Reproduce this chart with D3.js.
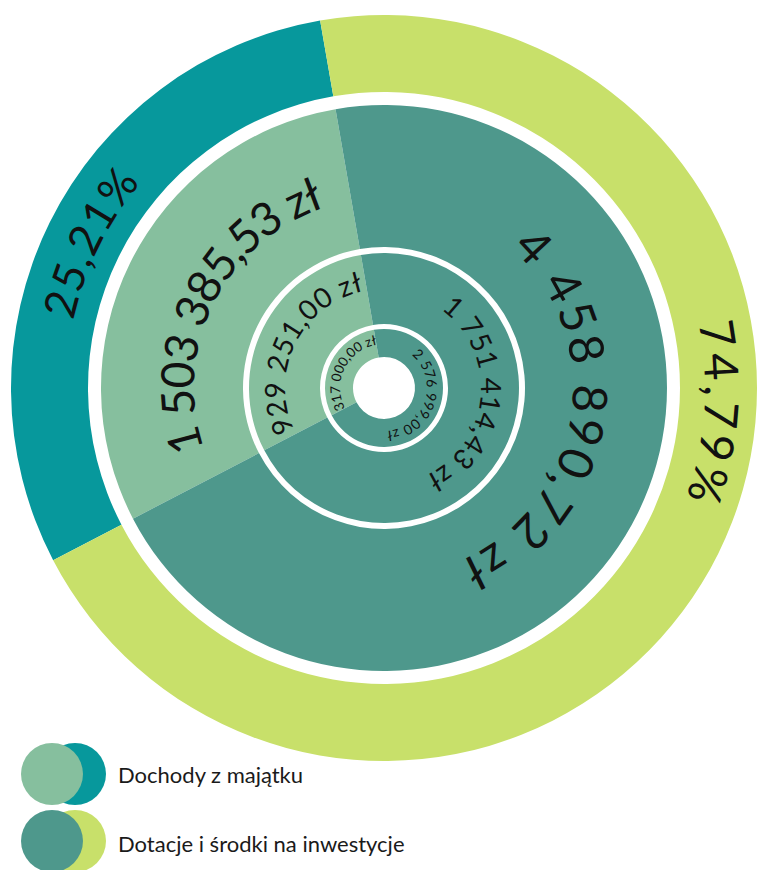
<!DOCTYPE html>
<html lang="pl">
<head>
<meta charset="UTF-8">
<script src="https://d3js.org/d3.v7.min.js"></script>
<style>
  body { margin: 0; background: #fff; }
  svg text { font-family: Lato, "Open Sans", sans-serif; }
</style>
</head>
<body>
<div class="chart"></div>
<script>
// values per ring, inner to outer: [Dochody z majątku, Dotacje i środki na inwestycje]
const ringInner = [317000.00, 2576999.00]
const ringMiddle = [929251.00, 1751414.43]
const ringMain = [1503385.53, 4458890.72]
const ringPercent = [25.21, 74.79]

const labelsInner = ["317 000,00 zł", "2 576 999,00 zł"]
const labelsMiddle = ["929 251,00 zł", "1 751 414,43 zł"]
const labelsMain = ["1 503 385,53 zł", "4 458 890,72 zł"]
const labelsPercent = ["25,21%", "74,79%"]

// share of the circle each slice takes in the picture (same split in every ring)
const sliceShares = [29.9, 70.1]

const categories = ["Dochody z majątku", "Dotacje i środki na inwestycje"]

// ---- layout ----
const width = 757, height = 870
const cx = 384, cy = 388
const deg = Math.PI / 180

const cLight = "#86bf9e", cDark = "#4e988c", cTeal = "#07989c", cLime = "#c8e06a"

// size / base / ls are [light label, dark label]
const rings = [
  { values: ringInner, labels: labelsInner, r0: 31, r1: 59, colors: [cLight, cDark], size: [13.5, 14], base: [44, 43], darkAt: 108, ls: [0, 0.3] },
  { values: ringMiddle, labels: labelsMiddle, r0: 64, r1: 135, colors: [cLight, cDark], size: [28, 28], base: [99, 97], darkAt: 95, ls: [0.5, 0.3] },
  { values: ringMain, labels: labelsMain, r0: 141, r1: 283, colors: [cLight, cDark], size: [46, 48], base: [190, 189], darkAt: 99.5, ls: [-1.5, 2.8] },
  { values: ringPercent, labels: labelsPercent, r0: 296, r1: 373, colors: [cTeal, cLime], size: [44, 47], base: [318, 321], darkAt: 94.5, ls: [1.5, 4] }
]

const svg = d3.select(".chart").append("svg")
  .attr("width", width)
  .attr("height", height)

const g = svg.append("g").attr("transform", "translate(" + cx + "," + cy + ")")

const start = -117.5 * deg
const pie = d3.pie().sort(null).startAngle(start).endAngle(start + 2 * Math.PI)
const slices = pie(sliceShares)

// full circle path centred on angle a, so startOffset 50% lands on a
function circlePath(r, a) {
  const p = t => [r * Math.sin(t), -r * Math.cos(t)]
  const [x0, y0] = p(a - Math.PI), [x1, y1] = p(a)
  return "M" + x0 + "," + y0 + " A" + r + "," + r + " 0 1 1 " + x1 + "," + y1 +
    " A" + r + "," + r + " 0 1 1 " + x0 + "," + y0
}

const defs = svg.append("defs")

rings.forEach(function (ring, i) {
  const arc = d3.arc().innerRadius(ring.r0).outerRadius(ring.r1)
  g.append("g").selectAll("path")
    .data(slices)
    .enter().append("path")
    .attr("d", arc)
    .attr("fill", (d, j) => ring.colors[j])

  slices.forEach(function (s, j) {
    const a = j === 0 ? (s.startAngle + s.endAngle) / 2 : ring.darkAt * deg
    const id = "lp" + i + "_" + j
    defs.append("path").attr("id", id).attr("d", circlePath(ring.base[j], a))
    g.append("text")
      .attr("font-size", ring.size[j])
      .attr("letter-spacing", ring.ls[j])
      .attr("fill", "#111")
      .append("textPath")
      .attr("href", "#" + id)
      .attr("startOffset", "50%")
      .attr("text-anchor", "middle")
      .text(ring.labels[j])
  })
})

// legend
const legendColors = [[cLight, cTeal], [cDark, cLime]]
const legend = svg.append("g").selectAll("g")
  .data(categories)
  .enter().append("g")
  .attr("transform", (d, i) => "translate(52," + (774 + i * 67) + ")")

legend.append("circle").attr("cx", 23).attr("r", 31).attr("fill", (d, i) => legendColors[i][1])
legend.append("circle").attr("cx", 0).attr("r", 31).attr("fill", (d, i) => legendColors[i][0])
legend.append("text")
  .attr("x", 66)
  .attr("y", (d, i) => 9 + i * 2)
  .attr("font-size", 22)
  .attr("fill", "#1a1a1a")
  .text(d => d)
</script>
</body>
</html>
